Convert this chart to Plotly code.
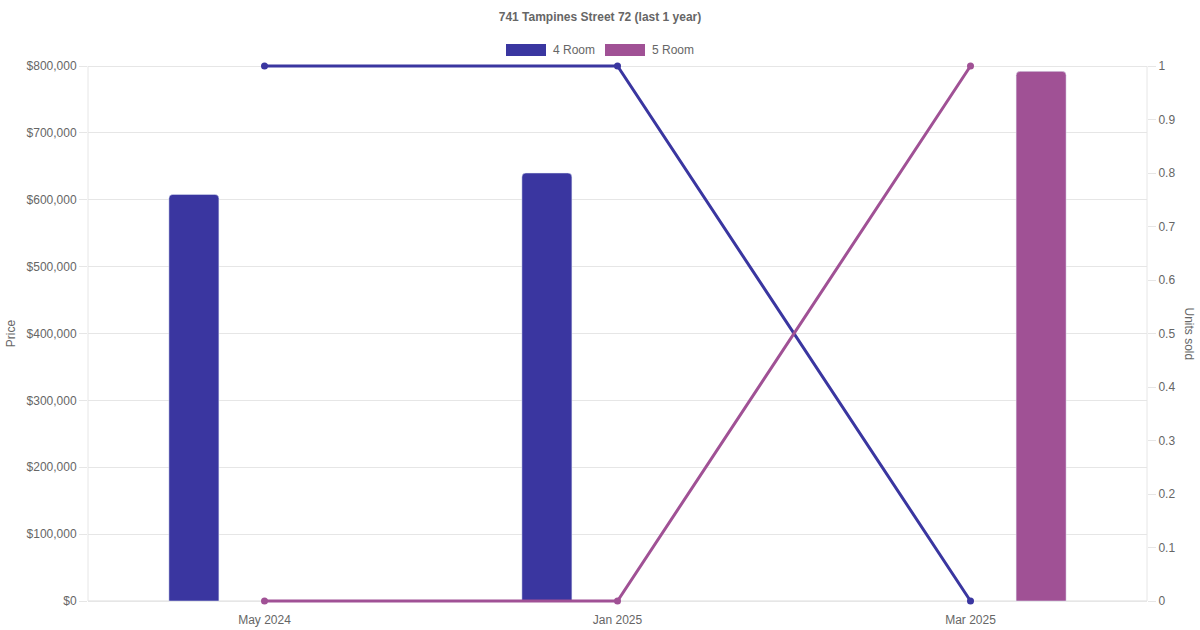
import plotly.graph_objects as go

categories = ["May 2024", "Jan 2025", "Mar 2025"]
price_4room = [608000, 640000, None]
price_5room = [None, None, 792000]
units_4room = [1, 1, 0]
units_5room = [0, 0, 1]

series_names = ["4 Room", "5 Room"]
series_colors = ["#3a36a0", "#a05195"]

FONT = "Liberation Sans, Arial, Helvetica, sans-serif"
GRID = "#e6e6e6"
TXT = "#666666"

# visible chart area in pixels (reference): x 88..1147, y 66..601
W, H = 1200, 630
X0, X1, Y0, Y1 = 88, 1147, 66, 601
PAD = 2  # extra px above/below so lines at the range ends are not clipped
L, R, T, B = X0, W - X1, Y0 - PAD, H - Y1 - PAD
PW, PH = W - L - R, H - T - B
VIS = Y1 - Y0

P_MAX, U_MAX = 800000, 1.0
p_pad = P_MAX * PAD / VIS
u_pad = U_MAX * PAD / VIS

bar_w = 50 / (PW / len(categories))  # in category units

fig = go.Figure()
fig.add_trace(go.Bar(x=categories, y=price_4room, name=series_names[0],
                     marker=dict(color=series_colors[0], cornerradius=4),
                     width=bar_w, offset=-0.2 - bar_w / 2, showlegend=False))
fig.add_trace(go.Bar(x=categories, y=price_5room, name=series_names[1],
                     marker=dict(color=series_colors[1], cornerradius=4),
                     width=bar_w, offset=0.2 - bar_w / 2, showlegend=False))
fig.add_trace(go.Scatter(x=categories, y=units_4room, name=series_names[0], yaxis="y2",
                         mode="lines+markers", line=dict(color=series_colors[0], width=3),
                         marker=dict(size=7, color=series_colors[0]), cliponaxis=False,
                         showlegend=False))
fig.add_trace(go.Scatter(x=categories, y=units_5room, name=series_names[1], yaxis="y2",
                         mode="lines+markers", line=dict(color=series_colors[1], width=3),
                         marker=dict(size=7, color=series_colors[1]), cliponaxis=False,
                         showlegend=False))

# custom legend (Chart.js style wide boxes)
def px_x(p):
    return (p - L) / PW

def px_y(p):
    return (H - B - p) / PH

shapes = []
annotations = []
legend_boxes = [(506, 551), (605, 650)]
for (bx, tx), name, col in zip(legend_boxes, series_names, series_colors):
    shapes.append(dict(type="rect", xref="paper", yref="paper",
                       x0=px_x(bx), x1=px_x(bx + 40), y0=px_y(56), y1=px_y(44),
                       fillcolor=col, line=dict(width=0)))
    annotations.append(dict(xref="paper", yref="paper", x=px_x(tx), y=px_y(50),
                            text=name, showarrow=False, xanchor="left", yanchor="middle",
                            font=dict(family=FONT, size=12, color=TXT)))

annotations.append(dict(xref="paper", yref="paper", x=px_x(1189), y=0.5, text="Units sold",
                        textangle=90, showarrow=False, xanchor="center", yanchor="middle",
                        font=dict(family=FONT, size=12, color=TXT)))
# axis baseline / top & right borders restricted to the visible range
shapes.append(dict(type="line", xref="paper", yref="y", x0=0, x1=1, y0=0, y1=0,
                   line=dict(color="#dddddd", width=1), layer="below"))
shapes.append(dict(type="line", xref="paper", yref="y", x0=0, x1=0, y0=0, y1=P_MAX,
                   line=dict(color=GRID, width=1), layer="below"))
shapes.append(dict(type="line", xref="paper", yref="y", x0=1, x1=1, y0=0, y1=P_MAX,
                   line=dict(color=GRID, width=1), layer="below"))

fig.update_layout(
    width=W, height=H,
    margin=dict(l=L, r=R, t=T, b=B, autoexpand=False),
    paper_bgcolor="white", plot_bgcolor="white",
    font=dict(family=FONT, size=12, color=TXT),
    title=dict(text="<b>741 Tampines Street 72 (last 1 year)</b>", x=0.5, xanchor="center",
               y=1 - 17 / H, yanchor="middle", yref="container",
               font=dict(family=FONT, size=12, color=TXT)),
    barmode="overlay",
    showlegend=False,
    xaxis=dict(type="category", range=[-0.5, 2.5], showgrid=False, zeroline=False,
               showline=False, ticks="outside", ticklen=6, tickcolor="rgba(0,0,0,0)",
               tickfont=dict(family=FONT, size=12, color=TXT), automargin=False),
    yaxis=dict(range=[-p_pad, P_MAX + p_pad], tick0=0, dtick=100000, tickprefix="$",
               tickformat=",", showgrid=True, gridcolor=GRID, gridwidth=1, zeroline=False,
               showline=False, ticks="outside", ticklen=8, tickcolor=GRID,
               tickfont=dict(family=FONT, size=12, color=TXT),
               title=dict(text="Price", standoff=8, font=dict(family=FONT, size=12, color=TXT)),
               automargin=False),
    yaxis2=dict(range=[-u_pad, U_MAX + u_pad], tick0=0, dtick=0.1, overlaying="y",
                side="right", showgrid=False, zeroline=False, showline=False,
                ticks="outside", ticklen=8, tickcolor=GRID,
                tickfont=dict(family=FONT, size=12, color=TXT), automargin=False),
    shapes=shapes,
    annotations=annotations,
)

fig.write_html("out.html", config={"displayModeBar": False},
               post_script="document.body.style.margin='0';document.body.style.overflow='hidden';")
